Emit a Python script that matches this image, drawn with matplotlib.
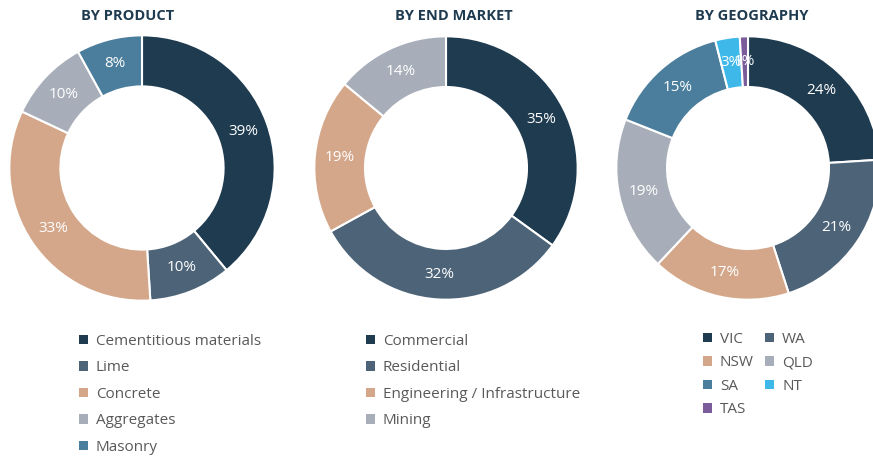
import matplotlib
matplotlib.use("Agg")
import matplotlib.pyplot as plt
from matplotlib.patches import Patch

plt.rcParams['font.family'] = ['Open Sans', 'DejaVu Sans']

# Data
product_labels = ["Cementitious materials", "Lime", "Concrete", "Aggregates", "Masonry"]
product_values = [39, 10, 33, 10, 8]

market_labels = ["Commercial", "Residential", "Engineering / Infrastructure", "Mining"]
market_values = [35, 32, 19, 14]

geo_labels = ["VIC", "WA", "NSW", "QLD", "SA", "NT", "TAS"]
geo_values = [24, 21, 17, 19, 15, 3, 1]

colors = ["#1F3B50", "#4D6478", "#D4A78A", "#A8AEB9", "#4A7E9C", "#3DB8E8", "#7B5C9A"]
title_color = "#1F3B50"
text_color = "#595959"

W, H = 873, 459
fig = plt.figure(figsize=(W / 100, H / 100), dpi=100)


def donut(cx, cy, r, values, title, tx):
    # cx, cy, r in pixels (y from top)
    ax = fig.add_axes([(cx - r) / W, (H - cy - r) / H, 2 * r / W, 2 * r / H])
    ax.pie(values, colors=colors[:len(values)], startangle=90, counterclock=False,
           radius=1.0, autopct='%d%%', pctdistance=0.81,
           wedgeprops=dict(width=0.385, edgecolor='white', linewidth=1.5),
           textprops=dict(color='white', fontsize=11))
    ax.set_xlim(-1.01, 1.01)
    ax.set_ylim(-1.01, 1.01)
    ax.set_aspect('equal')
    ax.axis('off')
    fig.text(tx / W, 1 - 16 / H, title, ha='center', va='center', fontsize=10.5,
             fontweight='bold', color=title_color, family=['Liberation Sans Narrow', 'Open Sans'])
    return ax


donut(142, 168, 134, product_values, "BY PRODUCT", 128)
donut(446, 168, 133, market_values, "BY END MARKET", 454)
donut(748, 168, 133, geo_values, "BY GEOGRAPHY", 752)


def legend(labels, idx, x, y, ncol=1, spacing=0.75, colsp=1.0):
    handles = [Patch(facecolor=colors[i], edgecolor='none') for i in idx]
    leg = fig.legend(handles, [labels[i] for i in idx], loc='upper left',
                     bbox_to_anchor=(x / W, 1 - y / H),
                     ncol=ncol, frameon=False, fontsize=11, handlelength=0.6, handleheight=0.6,
                     handletextpad=0.5, labelspacing=spacing, columnspacing=colsp,
                     borderaxespad=0, borderpad=0)
    for t in leg.get_texts():
        t.set_color(text_color)
    return leg


legend(product_labels, range(5), 79, 334)
legend(market_labels, range(4), 366, 334)
# row-major order for the two-column geography legend
legend(geo_labels, [0, 2, 4, 6, 1, 3, 5], 703, 332, ncol=2, spacing=0.55, colsp=0.75)

fig.savefig("out.png", dpi=100)
